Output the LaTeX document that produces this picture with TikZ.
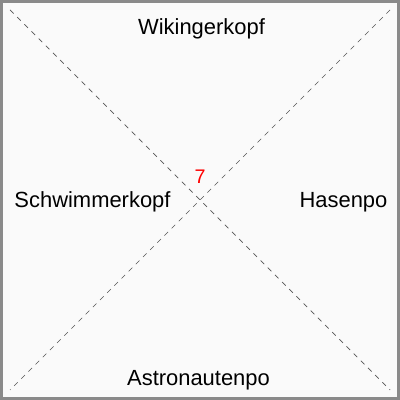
\documentclass[tikz,border=0pt]{standalone}
\usepackage{fontspec}
\setmainfont{Liberation Sans}
\usepackage{xcolor}
\usepackage{tikz}
\usetikzlibrary{positioning}
\definecolor{paper}{HTML}{FAFAFA}
\definecolor{frame}{HTML}{8A8A8A}
\definecolor{diag}{HTML}{555555}
\definecolor{score}{HTML}{FF0000}

\begin{document}
\begin{tikzpicture}[x=0.025cm,y=0.025cm,
    lbl/.style={anchor=base,inner sep=0pt,font=\fontsize{15.6}{18}\selectfont},
    cross/.style={diag,line width=0.5pt,dash pattern=on 3.6pt off 3.6pt}]
  \useasboundingbox (0,0) rectangle (400,400);
  \draw[frame,fill=paper,line width=1.8pt] (1.25,1.25) rectangle (398.75,398.75);
  % corners of the cross
  \coordinate (tl) at (10,390);
  \coordinate (tr) at (390,390);
  \coordinate (bl) at (10,10);
  \coordinate (br) at (390,10);
  \draw[cross] (tl) -- (br);
  \draw[cross] (tr) -- (bl);
  % the four sides
  \node[lbl] (top) at (201.5,365) {Wikingerkopf};
  \node[lbl] (left) at (92.5,192) {Schwimmerkopf};
  \node[lbl] (right) at (343.5,192) {Hasenpo};
  \node[lbl] (bottom) at (198.5,15) {Astronautenpo};
  \node[lbl,text=score,font=\fontsize{14}{16}\selectfont] (num) at (200,216) {7};
\end{tikzpicture}
\end{document}
